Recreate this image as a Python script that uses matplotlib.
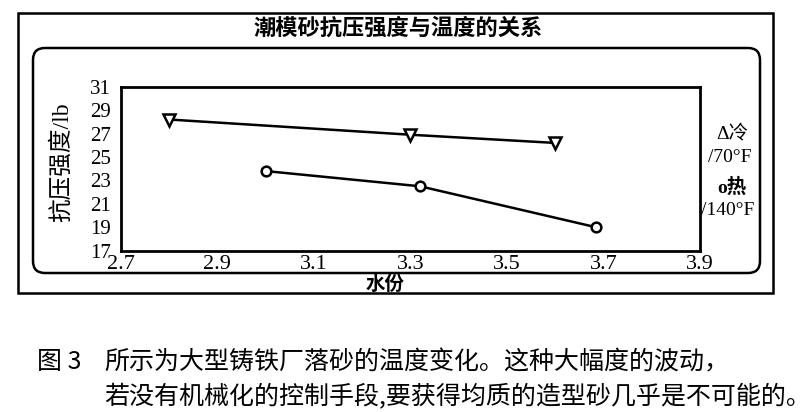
import matplotlib.pyplot as plt
from matplotlib.patches import Rectangle, FancyBboxPatch

# data
cold_x = [2.8, 3.3, 3.6]
cold_y = [28.2, 26.9, 26.2]
hot_x = [3.0, 3.32, 3.685]
hot_y = [23.8, 22.5, 19.0]
xticks = [2.7, 2.9, 3.1, 3.3, 3.5, 3.7, 3.9]
yticks = [17, 19, 21, 23, 25, 27, 29, 31]

title = '潮模砂抗压强度与温度的关系'
ylab = '抗压强度/lb'
xlab = '水份'
leg = [('Δ冷', '/70°F'), ('o热', '/140°F')]
cap_fig = '图 3'
cap1 = '所示为大型铸铁厂落砂的温度变化。这种大幅度的波动，'
cap2 = '若没有机械化的控制手段,要获得均质的造型砂几乎是不可能的。'

CJK = ['Noto Sans CJK SC', 'DejaVu Sans']
SER = ['Liberation Serif', 'Noto Sans CJK SC']

W, H = 812, 412
fig = plt.figure(figsize=(W / 100, H / 100), dpi=100)

# background layer in pixel coords
bg = fig.add_axes([0, 0, 1, 1])
bg.set_xlim(0, W)
bg.set_ylim(H, 0)
bg.axis('off')
bg.add_patch(Rectangle((18, 13), 755, 280, fill=False, lw=1.8, ec='black'))
bg.add_patch(FancyBboxPatch((33, 48), 727, 225, boxstyle='round,pad=0,rounding_size=12',
                            fill=False, lw=1.8, ec='black'))
bg.text(398, 28, title, family=CJK, fontsize=16, weight='semibold', ha='center', va='center')
bg.text(62, 162, ylab, family=SER, fontsize=17, rotation=90, ha='center', va='center')
bg.text(385, 284, xlab, family=CJK, fontsize=14, weight='semibold', ha='center', va='center')

ly = [133, 157, 187, 210]
bg.text(732, ly[0], leg[0][0], family=SER, fontsize=14, ha='center', va='center')
bg.text(730, ly[1], leg[0][1], family=SER, fontsize=14, ha='center', va='center')
bg.text(732, ly[2], leg[1][0], family=SER, fontsize=14, weight='bold', ha='center', va='center')
bg.text(728, ly[3], leg[1][1], family=SER, fontsize=14, ha='center', va='center')

bg.text(37, 362, cap_fig, family=CJK, fontsize=18, weight='light', ha='left', va='center')
bg.text(104, 362, cap1, family=CJK, fontsize=18, weight='light', ha='left', va='center')
bg.text(104, 397, cap2, family=CJK, fontsize=18, weight='light', ha='left', va='center')

# the chart itself
ax = fig.add_axes([120.7 / W, 1 - 250.7 / H, 579.3 / W, 164 / H])
ax.plot(cold_x, cold_y, color='black', lw=1.8, marker='v', ms=9,
        mfc='white', mec='black', mew=1.8)
ax.plot(hot_x, hot_y, color='black', lw=1.8, marker='o', ms=7,
        mfc='white', mec='black', mew=1.8)
ax.set_xlim(2.7, 3.9)
ax.set_ylim(17, 31)
ax.set_xticks(xticks)
ax.set_yticks(yticks)
ax.set_xticklabels([f'{v:.1f}' for v in xticks], family=SER, fontsize=16)
ax.set_yticklabels([str(v) for v in yticks], family=SER, fontsize=15)
ax.tick_params(axis='y', length=0, pad=7)
ax.tick_params(axis='x', length=0, pad=3)
for s in ax.spines.values():
    s.set_linewidth(2)

fig.savefig('out.png', dpi=100)
